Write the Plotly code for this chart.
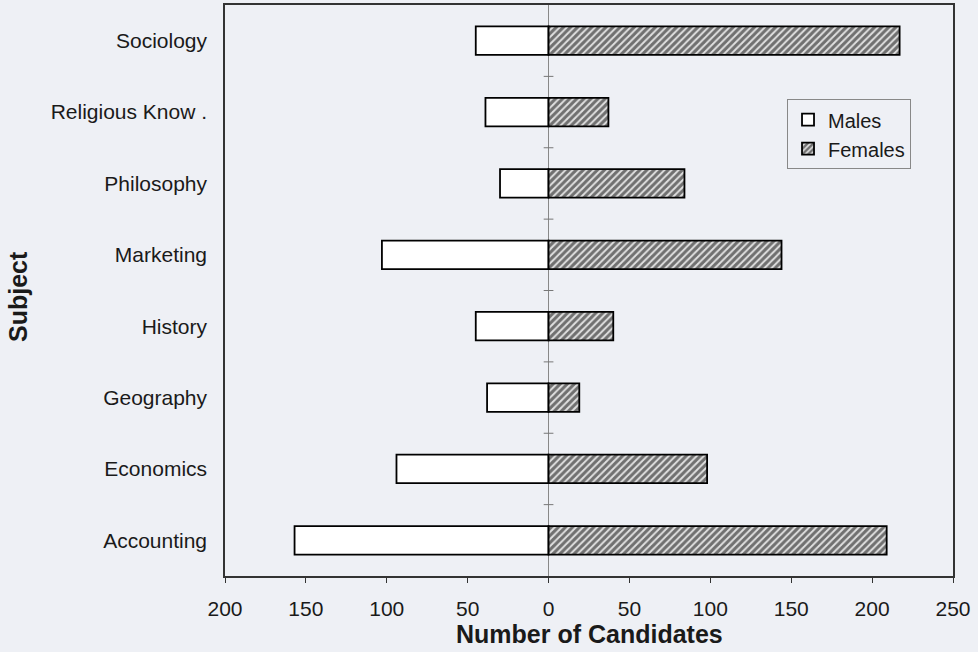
import plotly.graph_objs as go

subjects = ['Accounting', 'Economics', 'Geography', 'History',
            'Marketing', 'Philosophy', 'Religious Know .', 'Sociology']
males = [157, 94, 38, 45, 103, 30, 39, 45]
females = [209, 98, 19, 40, 144, 84, 37, 217]
tick_vals = [-200, -150, -100, -50, 0, 50, 100, 150, 200, 250]
tick_text = ['200', '150', '100', '50', '0', '50', '100', '150', '200', '250']

bg = '#eef0f5'
font = 'Liberation Sans, Arial, sans-serif'

fig = go.Figure()

fig.add_trace(go.Bar(
    y=subjects,
    x=[-m for m in males],
    orientation='h',
    name='Males',
    legendgroup='m',
    width=0.4,
    marker=dict(color='white', line=dict(color='black', width=1.8)),
))
fig.add_trace(go.Bar(
    y=subjects,
    x=females,
    orientation='h',
    name='Females',
    legendgroup='f',
    width=0.4,
    marker=dict(
        color='#e2e2e2',
        line=dict(color='black', width=1.8),
        pattern=dict(shape='/', fgcolor='#000000', bgcolor='#e0e0e0', size=5, solidity=0.6),
    ),
))

# small tick marks on the zero line between categories
for i in range(len(subjects) - 1):
    fig.add_shape(type='line', xref='x', yref='y',
                  x0=-3, x1=3, y0=i + 0.5, y1=i + 0.5,
                  line=dict(color='#777777', width=1))

fig.update_layout(
    barmode='overlay',
    width=978, height=652,
    margin=dict(l=225, r=25, t=5, b=76),
    paper_bgcolor=bg,
    plot_bgcolor=bg,
    font=dict(family=font, size=21, color='#1a1a1a'),
    showlegend=True,
    legend=dict(
        x=0.772, y=0.835, xanchor='left', yanchor='top',
        bgcolor=bg, bordercolor='#888888', borderwidth=1,
        font=dict(size=20), traceorder='normal',
        itemwidth=30, tracegroupgap=8,
    ),
    annotations=[
        dict(text='<b>Number of Candidates</b>', xref='paper', yref='paper',
             x=0.5, y=-0.102, xanchor='center', yanchor='middle',
             showarrow=False, font=dict(size=25)),
        dict(text='<b>Subject</b>', xref='paper', yref='paper',
             x=-0.284, y=0.489, xanchor='center', yanchor='middle',
             textangle=-90, showarrow=False, font=dict(size=25)),
    ],
)

fig.update_xaxes(
    range=[-200, 250],
    tickvals=tick_vals, ticktext=tick_text,
    ticks='outside', ticklen=5, tickcolor='#333333',
    ticklabelstandoff=8,
    showgrid=False, automargin=False,
    zeroline=True, zerolinecolor='#888888', zerolinewidth=1,
    showline=True, linecolor='#333333', linewidth=1.5, mirror=True,
)
fig.update_yaxes(
    range=[-0.5, 7.5],
    categoryorder='array', categoryarray=subjects,
    ticks='', showgrid=False, automargin=False,
    ticklabelstandoff=12,
    showline=True, linecolor='#333333', linewidth=1.5, mirror=True,
)

fig.write_html('out.html', config={'displayModeBar': False},
               post_script="document.body.style.margin='0';")
